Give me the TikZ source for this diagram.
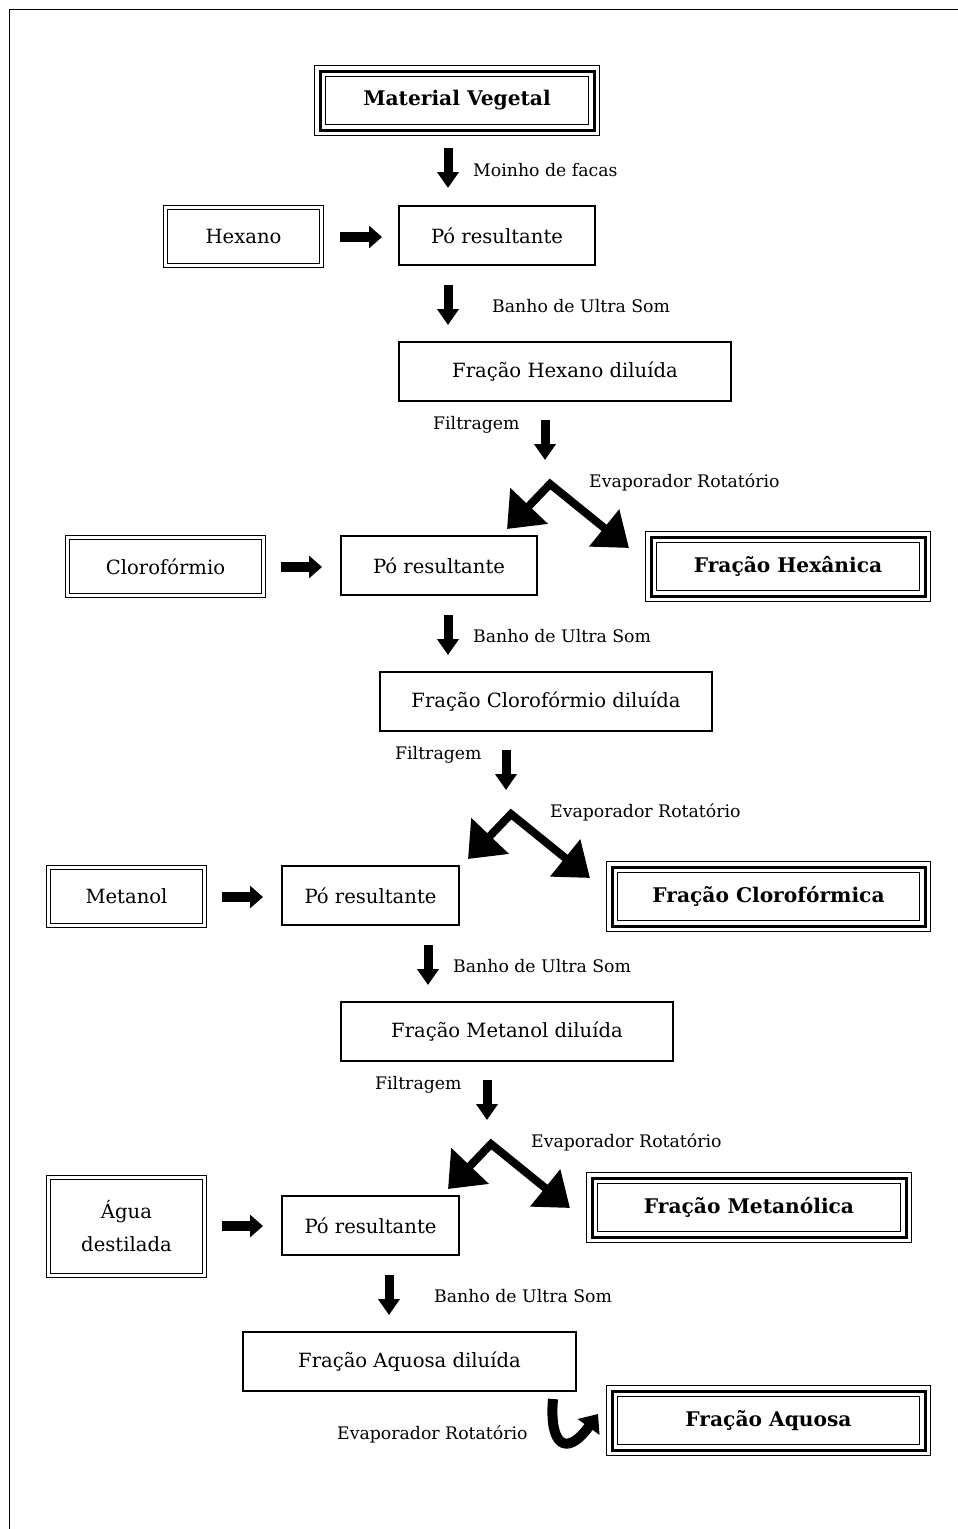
\documentclass[tikz,border=0pt]{standalone}
\usepackage{fontspec}
\setmainfont{DejaVu Serif}
\usetikzlibrary{arrows.meta,calc}

\newcommand\boxfont{\fontsize{19.6}{33}\selectfont}
\newcommand\labfont{\fontsize{17.3}{20}\selectfont}
\newcommand\headfont{\fontsize{20.2}{24}\selectfont\bfseries}

% thin outer and inner frame around a node drawn with the thick middle line
\newcommand\tripleframe[1]{%
  \draw[line width=1.3pt] ($(#1.north west)+(-5.5,-5.5)$) rectangle ($(#1.south east)+(5.5,5.5)$);
  \draw[line width=1.3pt] ($(#1.north west)+(5.5,5.5)$) rectangle ($(#1.south east)+(-5.5,-5.5)$);}

\tikzset{
  stepbox/.style={draw, line width=1.3pt, inner sep=0pt, align=center,
    minimum height=59pt, font=\boxfont},
  solventbox/.style={draw, double, line width=1.5pt, double distance=2.5pt,
    inner sep=0pt, align=center, minimum height=58pt, font=\boxfont},
  fractionbox/.style={draw, line width=3pt, inner sep=0pt, outer sep=0pt,
    align=center, minimum height=59pt, font=\headfont},
  lab/.style={anchor=west, inner sep=0pt, font=\labfont},
  downarrow/.style={line width=9pt, -{Triangle[length=16pt,width=21pt]}},
  rightarrow/.style={line width=10pt, -{Triangle[length=13pt,width=22pt]}},
  splitarrow/.style={line width=8pt, line join=miter,
    {Triangle[length=32pt,width=50pt]}-{Triangle[length=32pt,width=46pt]}},
  curvearrow/.style={line width=10pt, -{Triangle[length=16pt,width=26pt]}},
}

\begin{document}
\begin{tikzpicture}[x=1pt,y=-1pt]
\useasboundingbox (0,0) rectangle (958,1529);
\fill[white] (0,0) rectangle (958,1529);

% page frame
\draw[line width=1.6pt] (9.5,1529) -- (9.5,9.5) -- (958,9.5);

% ---------- boxes ----------
\node[fractionbox, minimum width=274pt] (mv) at (457,100.5) {Material Vegetal};
\tripleframe{mv}

\node[solventbox, minimum width=156pt] (hex) at (243.5,236.5) {Hexano};
\node[stepbox, minimum width=196pt] (po1) at (497,235.5) {Pó resultante};
\node[stepbox, minimum width=332pt] (fhd) at (565,371.5) {Fração Hexano diluída};

\node[solventbox, minimum width=196pt] (clo) at (165.5,566.5) {Clorofórmio};
\node[stepbox, minimum width=196pt] (po2) at (439,565.5) {Pó resultante};
\node[fractionbox, minimum width=274pt] (fhx) at (788,566.5) {Fração Hexânica};
\tripleframe{fhx}
\node[stepbox, minimum width=332pt] (fcd) at (546,701.5) {Fração Clorofórmio diluída};

\node[solventbox, minimum width=156pt] (met) at (126.5,896.5) {Metanol};
\node[stepbox, minimum width=177pt] (po3) at (370.5,895.5) {Pó resultante};
\node[fractionbox, minimum width=313pt] (fcl) at (768.5,896.5) {Fração Clorofórmica};
\tripleframe{fcl}
\node[stepbox, minimum width=332pt] (fmd) at (507,1031.5) {Fração Metanol diluída};

\node[solventbox, minimum width=156pt, minimum height=98pt] (agu) at (126.5,1226.5) {Água\\destilada};
\node[stepbox, minimum width=177pt] (po4) at (370.5,1225.5) {Pó resultante};
\node[fractionbox, minimum width=314pt] (fme) at (749,1207.5) {Fração Metanólica};
\tripleframe{fme}
\node[stepbox, minimum width=333pt] (fad) at (409.5,1361.5) {Fração Aquosa diluída};
\node[fractionbox, minimum width=313pt] (faq) at (768.5,1420.5) {Fração Aquosa};
\tripleframe{faq}

% ---------- labels ----------
\node[lab] (l1) at (473,170) {Moinho de facas};
\node[lab] (l2) at (492,306) {Banho de Ultra Som};
\node[lab] (l3) at (433,425) {Filtragem};
\node[lab] (l4) at (589,482) {Evaporador Rotatório};
\node[lab] (l5) at (473,636) {Banho de Ultra Som};
\node[lab] (l6) at (395,755) {Filtragem};
\node[lab] (l7) at (550,812) {Evaporador Rotatório};
\node[lab] (l8) at (453,966) {Banho de Ultra Som};
\node[lab] (l9) at (375,1085) {Filtragem};
\node[lab] (l10) at (531,1142) {Evaporador Rotatório};
\node[lab] (l11) at (434,1296) {Banho de Ultra Som};
\node[lab] (l12) at (337,1434) {Evaporador Rotatório};

% ---------- vertical arrows ----------
\coordinate (d1a) at (448,148);  \coordinate (d1b) at (448,188);
\coordinate (d2a) at (448,285);  \coordinate (d2b) at (448,325);
\coordinate (d3a) at (545,420);  \coordinate (d3b) at (545,460);
\coordinate (d4a) at (448,615);  \coordinate (d4b) at (448,655);
\coordinate (d5a) at (506,750);  \coordinate (d5b) at (506,790);
\coordinate (d6a) at (428,945);  \coordinate (d6b) at (428,985);
\coordinate (d7a) at (487,1080); \coordinate (d7b) at (487,1120);
\coordinate (d8a) at (389,1275); \coordinate (d8b) at (389,1315);
\foreach \i in {1,...,8} \draw[downarrow] (d\i a) -- (d\i b);

% ---------- horizontal arrows ----------
\coordinate (r1a) at (340,237);  \coordinate (r1b) at (382,237);
\coordinate (r2a) at (281,567);  \coordinate (r2b) at (322,567);
\coordinate (r3a) at (222,897);  \coordinate (r3b) at (263,897);
\coordinate (r4a) at (222,1226); \coordinate (r4b) at (263,1226);
\foreach \i in {1,...,4} \draw[rightarrow] (r\i a) -- (r\i b);

% ---------- split arrows after filtration ----------
\foreach \i/\dx/\dy in {1/0/0, 2/-39/330, 3/-59/660}{
  \coordinate (s\i l) at (507+\dx,529+\dy);
  \coordinate (s\i p) at (550+\dx,484+\dy);
  \coordinate (s\i r) at (629+\dx,548+\dy);
  \draw[splitarrow] (s\i l) -- (s\i p) -- (s\i r);
}

% ---------- final curved arrow ----------
\coordinate (c1) at (553,1399);
\coordinate (c2) at (598,1414);
\draw[curvearrow] (c1) .. controls (549,1445) and (566,1458) .. (c2);

\end{tikzpicture}
\end{document}
